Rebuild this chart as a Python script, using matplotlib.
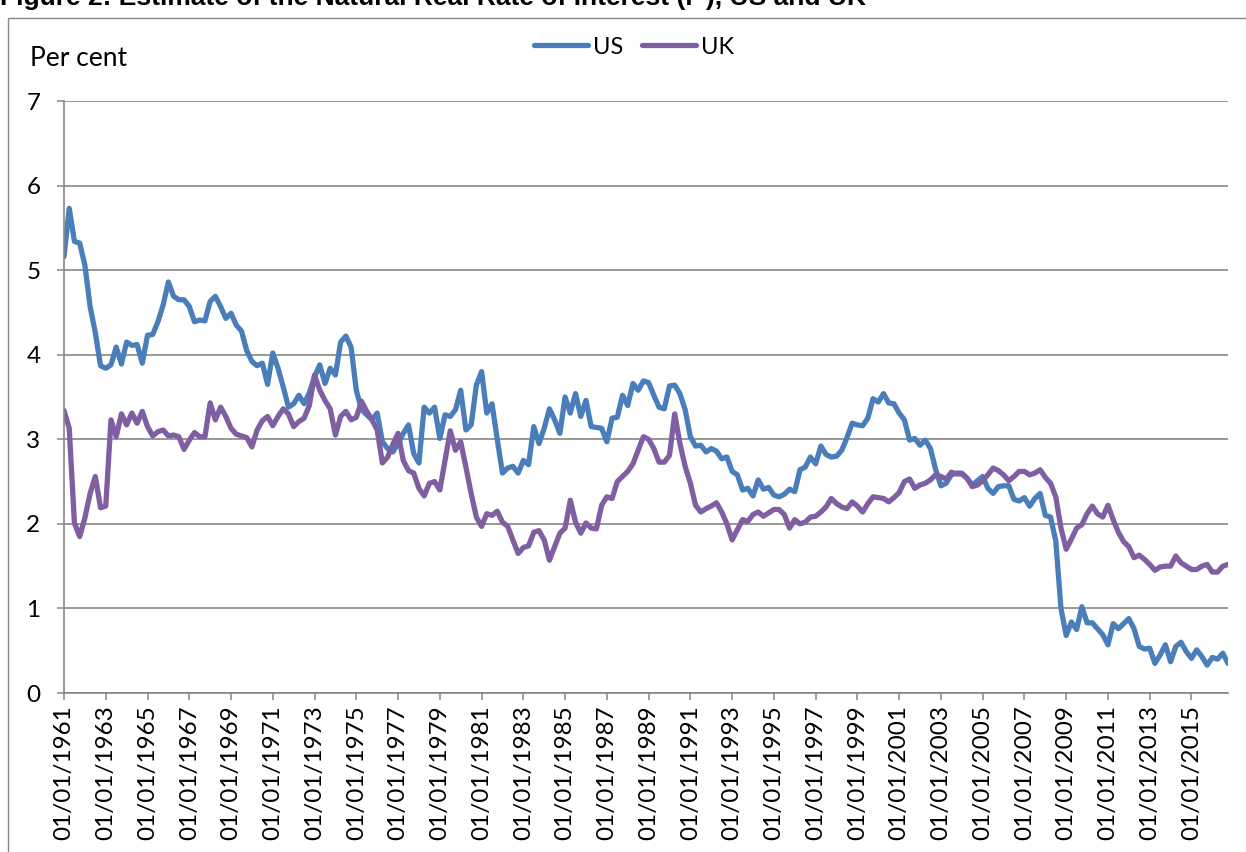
import numpy as np
import pandas as pd
import matplotlib
matplotlib.use("Agg")
import matplotlib.pyplot as plt
from matplotlib.patches import Rectangle

# -----------------------------------
# DATA (quarterly, 1961 Q1 - 2016 Q4, per cent)
# -----------------------------------

us = [
    5.16, 5.73, 5.34, 5.32, 5.06, 4.57, 4.26, 3.87,
    3.84, 3.88, 4.09, 3.89, 4.15, 4.11, 4.12, 3.90,
    4.23, 4.24, 4.39, 4.59, 4.86, 4.69, 4.65, 4.65,
    4.57, 4.39, 4.41, 4.40, 4.63, 4.69, 4.57, 4.43,
    4.49, 4.35, 4.28, 4.05, 3.92, 3.87, 3.90, 3.65,
    4.02, 3.84, 3.62, 3.38, 3.42, 3.52, 3.42, 3.55,
    3.74, 3.88, 3.66, 3.84, 3.76, 4.15, 4.22, 4.09,
    3.58, 3.35, 3.29, 3.23, 3.31, 2.97, 2.89, 2.85,
    2.95, 3.07, 3.17, 2.83, 2.72, 3.38, 3.31, 3.38,
    3.01, 3.29, 3.27, 3.35, 3.58, 3.11, 3.17, 3.64,
    3.80, 3.31, 3.42, 3.00, 2.60, 2.66, 2.68, 2.60,
    2.75, 2.70, 3.15, 2.95, 3.13, 3.36, 3.23, 3.07,
    3.50, 3.31, 3.54, 3.27, 3.46, 3.15, 3.14, 3.13,
    2.97, 3.25, 3.26, 3.52, 3.40, 3.66, 3.58, 3.69,
    3.67, 3.52, 3.38, 3.36, 3.63, 3.64, 3.54, 3.35,
    3.03, 2.92, 2.93, 2.85, 2.89, 2.86, 2.77, 2.79,
    2.62, 2.58, 2.40, 2.42, 2.33, 2.52, 2.41, 2.43,
    2.34, 2.32, 2.35, 2.41, 2.38, 2.64, 2.67, 2.79,
    2.71, 2.92, 2.82, 2.79, 2.80, 2.87, 3.02, 3.19,
    3.17, 3.16, 3.25, 3.48, 3.44, 3.54, 3.43, 3.42,
    3.31, 3.23, 2.99, 3.01, 2.93, 2.99, 2.89, 2.64,
    2.45, 2.48, 2.58, 2.60, 2.60, 2.54, 2.46, 2.51,
    2.56, 2.42, 2.36, 2.44, 2.45, 2.45, 2.29, 2.27,
    2.31, 2.21, 2.30, 2.36, 2.10, 2.08, 1.80, 1.00,
    0.68, 0.84, 0.75, 1.02, 0.83, 0.83, 0.76, 0.69,
    0.57, 0.82, 0.76, 0.82, 0.88, 0.76, 0.55, 0.52,
    0.53, 0.35, 0.45, 0.57, 0.37, 0.55, 0.60, 0.49,
    0.41, 0.51, 0.43, 0.33, 0.42, 0.40, 0.47, 0.35,
]

uk = [
    3.34, 3.13, 2.01, 1.85, 2.07, 2.36, 2.56, 2.19,
    2.21, 3.23, 3.03, 3.30, 3.17, 3.31, 3.19, 3.33,
    3.15, 3.04, 3.09, 3.11, 3.04, 3.05, 3.03, 2.88,
    2.99, 3.08, 3.03, 3.03, 3.43, 3.23, 3.38, 3.27,
    3.13, 3.06, 3.04, 3.02, 2.91, 3.11, 3.22, 3.27,
    3.16, 3.27, 3.36, 3.30, 3.15, 3.21, 3.25, 3.40,
    3.76, 3.58, 3.46, 3.36, 3.05, 3.27, 3.33, 3.23,
    3.26, 3.45, 3.33, 3.23, 3.11, 2.72, 2.79, 2.94,
    3.07, 2.75, 2.63, 2.60, 2.42, 2.33, 2.48, 2.50,
    2.40, 2.75, 3.10, 2.87, 2.97, 2.67, 2.36, 2.08,
    1.97, 2.12, 2.10, 2.15, 2.02, 1.97, 1.81, 1.65,
    1.72, 1.74, 1.90, 1.92, 1.81, 1.57, 1.73, 1.89,
    1.95, 2.28, 2.02, 1.89, 2.01, 1.95, 1.94, 2.22,
    2.32, 2.30, 2.50, 2.56, 2.62, 2.71, 2.87, 3.03,
    3.00, 2.89, 2.73, 2.73, 2.81, 3.30, 2.95, 2.68,
    2.48, 2.22, 2.14, 2.18, 2.21, 2.25, 2.14, 2.00,
    1.81, 1.93, 2.05, 2.03, 2.11, 2.14, 2.09, 2.13,
    2.17, 2.17, 2.11, 1.95, 2.05, 2.00, 2.02, 2.08,
    2.09, 2.14, 2.20, 2.30, 2.24, 2.20, 2.18, 2.26,
    2.21, 2.14, 2.24, 2.32, 2.31, 2.30, 2.26, 2.31,
    2.37, 2.50, 2.53, 2.42, 2.46, 2.48, 2.52, 2.58,
    2.56, 2.53, 2.61, 2.59, 2.59, 2.54, 2.44, 2.46,
    2.51, 2.58, 2.66, 2.63, 2.58, 2.51, 2.56, 2.62,
    2.62, 2.58, 2.60, 2.64, 2.55, 2.48, 2.32, 1.95,
    1.70, 1.82, 1.95, 1.99, 2.12, 2.21, 2.12, 2.08,
    2.22, 2.05, 1.90, 1.79, 1.73, 1.60, 1.63, 1.58,
    1.52, 1.45, 1.49, 1.50, 1.50, 1.62, 1.54, 1.50,
    1.46, 1.46, 1.50, 1.52, 1.43, 1.43, 1.50, 1.52,
]

dates = pd.date_range("1961-01-01", periods=len(us), freq="QS")
tick_step = 8
y_ticks = [0, 1, 2, 3, 4, 5, 6, 7]

title = "Figure 2: Estimate of the Natural Real Rate of Interest (r*), US and UK"

US_COLOR = "#4A7EBB"
UK_COLOR = "#7F5FA1"
GRID_COLOR = "#868686"

# -----------------------------------
# FIGURE
# -----------------------------------

plt.rcParams["font.family"] = ["Lato", "DejaVu Sans"]

W, H = 1246, 852
fig = plt.figure(figsize=(W / 100, H / 100), dpi=100)

ax = fig.add_axes([64 / W, 1 - 693 / H, (1228 - 64) / W, (693 - 101) / H])

x = np.arange(len(us))

ax.plot(x, us, color=US_COLOR, lw=3.8, label="US",
        solid_joinstyle="round", solid_capstyle="round")
ax.plot(x, uk, color=UK_COLOR, lw=3.8, label="UK",
        solid_joinstyle="round", solid_capstyle="round")

ax.set_xlim(0, len(us) - 1)
ax.set_ylim(0, 7)

ax.set_yticks(y_ticks)
ax.grid(axis="y", color=GRID_COLOR, lw=1.2)
ax.set_axisbelow(True)

ax.set_xticks(x[::tick_step])
ax.set_xticklabels(dates[::tick_step].strftime("%d/%m/%Y"), rotation=90)

for side in ["top", "right"]:
    ax.spines[side].set_visible(False)
for side in ["left", "bottom"]:
    ax.spines[side].set_color(GRID_COLOR)
    ax.spines[side].set_linewidth(1.2)

ax.tick_params(axis="both", direction="out", length=5, width=1.1,
               color=GRID_COLOR, labelsize=17.5, labelcolor="black")
ax.tick_params(axis="y", pad=12)
ax.tick_params(axis="x", pad=4)

# -----------------------------------
# TEXT + LEGEND
# -----------------------------------

fig.text(30 / W, 1 - 58 / H, "Per cent", fontsize=19,
         ha="left", va="center")

fig.legend(loc="center", bbox_to_anchor=(634 / W, 1 - 47 / H), ncol=2,
           frameon=False, fontsize=17, handlelength=2.3,
           handletextpad=0.2, columnspacing=0.8)

# title sits mostly above the top edge, as in the source image
fig.text(0, 1 - 5 / H, title, fontsize=19, fontweight="bold",
         family="Liberation Sans", ha="left", va="baseline")

# chart border
fig.add_artist(Rectangle((8 / W, -0.1), 1.2, 1.1 - 18 / H,
                         transform=fig.transFigure, fill=False,
                         edgecolor=GRID_COLOR, lw=1.0))

fig.savefig("out.png", dpi=100)
